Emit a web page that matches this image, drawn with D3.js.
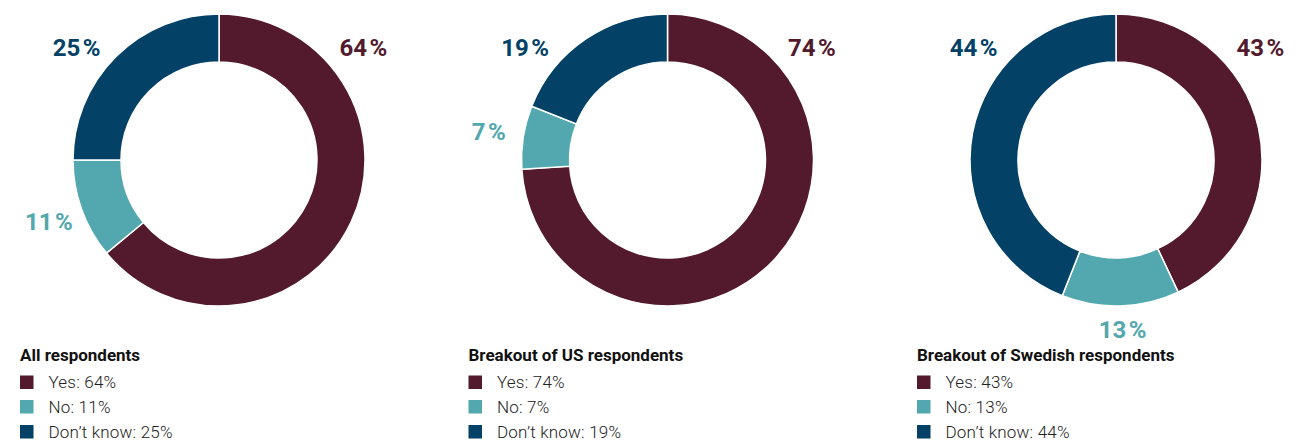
<!DOCTYPE html>
<html>
<head>
<meta charset="utf-8">
<script src="https://cdn.jsdelivr.net/npm/d3@7/dist/d3.min.js"></script>
<style>
  html, body { margin: 0; padding: 0; background: #fff; }
  svg { display: block; font-family: Roboto, "Noto Sans", sans-serif; }
</style>
</head>
<body>
<svg id="chart" width="1313" height="443"></svg>
<script>
// Survey answers, in percent, for each group of respondents
const answers = ["Yes", "No", "Don’t know"];
const groupTitles = ["All respondents", "Breakout of US respondents", "Breakout of Swedish respondents"];
const allRespondents = [64, 11, 25];
const usRespondents = [74, 7, 19];
const swedishRespondents = [43, 13, 44];
const groupValues = [allRespondents, usRespondents, swedishRespondents];

const colors = d3.scaleOrdinal()
  .domain(answers)
  .range(["#521a2c", "#52a8ae", "#034166"]);

const svg = d3.select("#chart");

const outerR = 146, innerR = 98;
const centerY = 160;
const labelR = 182;
const cornerAngle = 52 * Math.PI / 180;   // labels of slices that meet at 12 o'clock sit at the upper corners
const legendTitleY = 361;
const legendRowY = [388, 412.5, 437.5];

// horizontal placement of the three donuts
const x = d3.scalePoint()
  .domain(groupTitles)
  .range([219, 1116]);

const pie = d3.pie().sort(null).value(d => d.value);
const arc = d3.arc().innerRadius(innerR).outerRadius(outerR);

groupTitles.forEach((title, gi) => {
  const cx = x(title);
  const data = answers.map((a, i) => ({ answer: a, value: groupValues[gi][i] }));
  const arcs = pie(data);

  const g = svg.append("g").attr("transform", `translate(${cx},${centerY})`);

  g.selectAll("path.slice")
    .data(arcs)
    .join("path")
    .attr("class", "slice")
    .attr("d", arc)
    .attr("fill", d => colors(d.data.answer))
    .attr("stroke", "#fff")
    .attr("stroke-width", 1.5)
    .attr("stroke-linejoin", "miter");

  // percentage labels around the ring
  const pct = g.selectAll("text.pct")
    .data(arcs)
    .join("text")
    .attr("class", "pct")
    .each(function(d) {
      let a;
      if (d.startAngle === 0) a = cornerAngle;
      else if (Math.abs(d.endAngle - 2 * Math.PI) < 1e-6) a = 2 * Math.PI - cornerAngle;
      else a = (d.startAngle + d.endAngle) / 2;
      const lx = labelR * Math.sin(a);
      // bottom labels are kept clear of the legend
      const ly = Math.min(-labelR * Math.cos(a), 169);
      d3.select(this)
        .attr("x", lx + 1)
        .attr("y", ly + 8.5);
    })
    .attr("text-anchor", "middle")
    .attr("font-size", 24)
    .attr("font-weight", 700)
    .attr("fill", d => colors(d.data.answer));
  pct.append("tspan").text(d => d.data.value);
  pct.append("tspan").attr("dx", 2.5).text("%");

  // legend block under each donut
  const lg = svg.append("g").attr("transform", `translate(${cx - 199},0)`);
  lg.append("text")
    .attr("x", 0)
    .attr("y", legendTitleY)
    .attr("font-size", 17)
    .attr("font-weight", 700)
    .attr("fill", "#111")
    .text(title);

  const rows = lg.selectAll("g.row")
    .data(data)
    .join("g")
    .attr("class", "row")
    .attr("transform", (d, i) => `translate(0,${legendRowY[i]})`);

  rows.append("rect")
    .attr("x", 0)
    .attr("y", -12.5)
    .attr("width", 13.5)
    .attr("height", 13.5)
    .attr("fill", d => colors(d.answer));

  rows.append("text")
    .attr("x", 28.5)
    .attr("y", 0)
    .attr("font-size", 17)
    .attr("font-weight", 300)
    .attr("letter-spacing", 0.2)
    .attr("fill", "#222")
    .text(d => `${d.answer}: ${d.value}%`);
});
</script>
</body>
</html>
